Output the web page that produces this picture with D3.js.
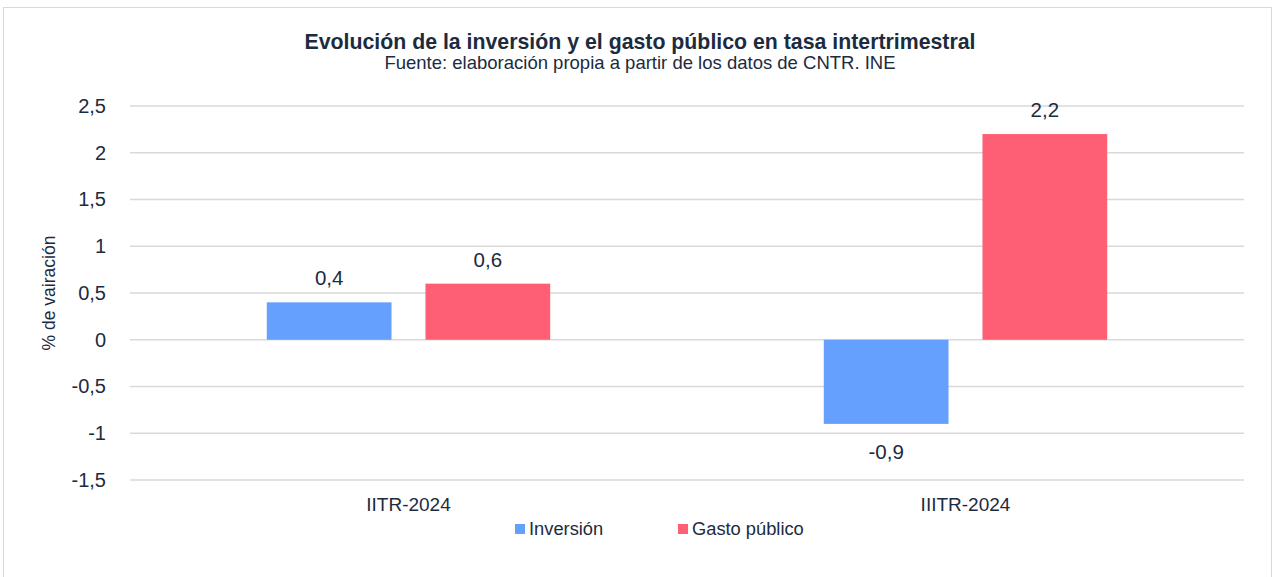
<!DOCTYPE html>
<html>
<head>
<meta charset="utf-8">
<script src="https://cdn.jsdelivr.net/npm/d3@7"></script>
<style>
  body{margin:0;background:#fff;font-family:"Liberation Sans",Arial,sans-serif;}
  svg text{fill:#1c2b3e;}
</style>
</head>
<body>
<svg id="chart" width="1274" height="577"></svg>
<script>
/* datos: tasa intertrimestral (%) */
const categories = ["IITR-2024", "IIITR-2024"];
const seriesNames = ["Inversión", "Gasto público"];
const inversion = [0.4, -0.9];
const gasto = [0.6, 2.2];
const yTicks = [-1.5, -1, -0.5, 0, 0.5, 1, 1.5, 2, 2.5];
const colors = ["#66a0ff", "#ff5f75"];

const svg = d3.select("#chart");
const W = 1274, H = 577;
const m = {left:130, right:30, top:106, bottom:97};

// marco
svg.append("rect").attr("x",3.5).attr("y",7.5).attr("width",1268).attr("height",H)
  .attr("fill","#fff").attr("stroke","#d9d9d9").attr("stroke-width",1);

const x0 = d3.scaleBand().domain(categories).range([m.left, W-m.right]);
const x1 = d3.scaleBand().domain(seriesNames).range([0, x0.bandwidth()])
  .paddingInner(0.214).paddingOuter(0.862);
const y = d3.scaleLinear().domain([-1.5, 2.5]).range([H-m.bottom, m.top]);

const fmt = v => String(v).replace(".", ",");

// rejilla
svg.append("g").selectAll("line").data(yTicks).join("line")
  .attr("x1", m.left).attr("x2", W-m.right)
  .attr("y1", d=>y(d)).attr("y2", d=>y(d))
  .attr("stroke","#d9d9d9").attr("stroke-width",1.3);

// eje Y
const yAxis = svg.append("g").attr("transform",`translate(${m.left-24},0)`)
  .call(d3.axisLeft(y).tickValues(yTicks).tickFormat(fmt).tickSize(0).tickPadding(0));
yAxis.select(".domain").remove();
yAxis.selectAll("text").attr("font-size",20).attr("font-family","Liberation Sans, Arial, sans-serif")
  .attr("fill","#1c2b3e");

svg.append("text").attr("transform",`translate(55,${y(0.5)}) rotate(-90)`)
  .attr("text-anchor","middle").attr("font-size",17.5).text("% de vairación");

// barras
const rows = categories.map((c,i)=>({cat:c, vals:[inversion[i], gasto[i]]}));
const g = svg.append("g").selectAll("g").data(rows).join("g")
  .attr("transform", d=>`translate(${x0(d.cat)},0)`);
g.selectAll("rect").data(d=>d.vals.map((v,j)=>({s:seriesNames[j], v, j}))).join("rect")
  .attr("x", d=>x1(d.s)).attr("width", x1.bandwidth())
  .attr("y", d=>y(Math.max(0,d.v))).attr("height", d=>Math.abs(y(d.v)-y(0)))
  .attr("fill", d=>colors[d.j]);
g.selectAll("text").data(d=>d.vals.map((v,j)=>({s:seriesNames[j], v, j}))).join("text")
  .attr("x", d=>x1(d.s)+x1.bandwidth()/2)
  .attr("y", d=>d.v>=0 ? y(d.v)-17 : y(d.v)+35)
  .attr("text-anchor","middle").attr("font-size",20.5).text(d=>fmt(d.v));

// eje X
svg.append("g").selectAll("text").data(categories).join("text")
  .attr("x", d=>x0(d)+x0.bandwidth()/2).attr("y", 511)
  .attr("text-anchor","middle").attr("font-size",19).text(d=>d);

// leyenda
const legX = [515, 678];
const leg = svg.append("g").selectAll("g").data(seriesNames).join("g")
  .attr("transform",(d,i)=>`translate(${legX[i]},524)`);
leg.append("rect").attr("width",10).attr("height",10).attr("fill",(d,i)=>colors[i]);
leg.append("text").attr("x",14).attr("y",11).attr("font-size",18.3).text(d=>d);

// títulos
svg.append("text").attr("x",640).attr("y",49).attr("text-anchor","middle")
  .attr("font-size",21.3).attr("font-weight","bold").text("Evolución de la inversión y el gasto público en tasa intertrimestral");
svg.append("text").attr("x",640).attr("y",69).attr("text-anchor","middle")
  .attr("font-size",18.5).text("Fuente: elaboración propia a partir de los datos de CNTR. INE");
</script>
</body>
</html>
